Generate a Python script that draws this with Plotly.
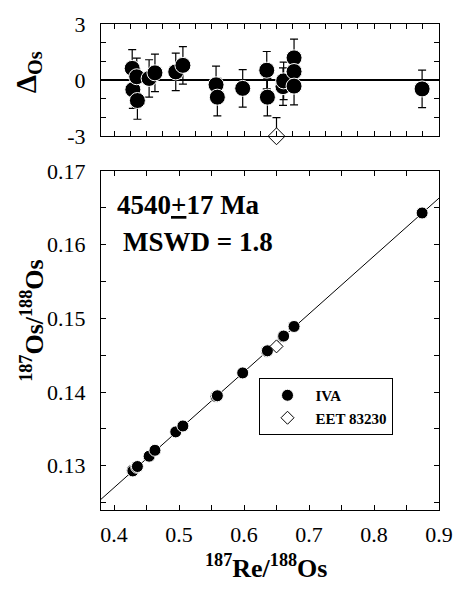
import numpy as np
import plotly.graph_objects as go

# ---------------- data ----------------
iva_re_os = [0.428, 0.429, 0.435, 0.436, 0.454, 0.463, 0.495, 0.506, 0.557, 0.559,
             0.598, 0.635, 0.636, 0.660, 0.661, 0.677, 0.677, 0.677, 0.874]
iva_os_os = [0.1294, 0.1293, 0.1298, 0.1299, 0.1313, 0.1321, 0.1346, 0.1354, 0.1394, 0.1395,
             0.1426, 0.1455, 0.1456, 0.1475, 0.1476, 0.1489, 0.1489, 0.1489, 0.1643]
iva_delta = [0.63, -0.51, 0.18, -1.09, 0.09, 0.39, 0.44, 0.79, -0.25, -0.91,
             -0.44, 0.53, -0.91, -0.35, -0.04, 1.19, 0.46, -0.32, -0.47]
iva_err = [1.0] * 19

eet_re_os = [0.650]
eet_os_os = [0.1462]
eet_delta = [-3.0]
eet_err_up = [1.0]
eet_err_down = [0.0]

# isochron (4540 Ma)
iso_slope = 0.07857
iso_intercept = 0.0956

x_range = [0.38, 0.9]
y_range_top = [-3, 3]
y_range_bot = [0.124, 0.17]

top_y_ticks = [-3, -2, -1, 0, 1, 2, 3]
top_y_labels = ["-3", "", "", "0", "", "", "3"]
top_x_ticks = list(np.round(np.arange(0.4, 0.9001, 0.025), 3))
bot_x_ticks = [0.4, 0.45, 0.5, 0.55, 0.6, 0.65, 0.7, 0.75, 0.8, 0.85, 0.9]
bot_x_labels = ["0.4", "", "0.5", "", "0.6", "", "0.7", "", "0.8", "", "0.9"]
bot_y_ticks = [0.125, 0.13, 0.135, 0.14, 0.145, 0.15, 0.155, 0.16, 0.165, 0.17]
bot_y_labels = ["", "0.13", "", "0.14", "", "0.15", "", "0.16", "", "0.17"]

FONT = "Liberation Serif"

fig = go.Figure()

# ---------- top panel: deviations ----------
fig.add_trace(go.Scatter(
    x=iva_re_os, y=iva_delta, mode="markers", xaxis="x", yaxis="y",
    marker=dict(symbol="circle", size=16, color="black", line=dict(color="white", width=1)),
    error_y=dict(type="data", array=iva_err, color="black", thickness=1.2, width=4),
    showlegend=False, cliponaxis=False))
fig.add_trace(go.Scatter(
    x=eet_re_os, y=eet_delta, mode="markers", xaxis="x", yaxis="y",
    marker=dict(symbol="diamond", size=13, color="white", line=dict(color="black", width=1)),
    error_y=dict(type="data", symmetric=False, array=eet_err_up, arrayminus=eet_err_down,
                 color="black", thickness=1.2, width=4),
    showlegend=False, cliponaxis=False))

# ---------- bottom panel: isochron ----------
line_x = np.array(x_range)
line_y = iso_intercept + iso_slope * line_x
fig.add_trace(go.Scatter(
    x=line_x, y=line_y, mode="lines", xaxis="x2", yaxis="y2",
    line=dict(color="black", width=1), showlegend=False, hoverinfo="skip"))
fig.add_trace(go.Scatter(
    x=iva_re_os, y=iva_os_os, mode="markers", xaxis="x2", yaxis="y2", name="IVA",
    marker=dict(symbol="circle", size=12, color="black", line=dict(color="white", width=1))))
fig.add_trace(go.Scatter(
    x=eet_re_os, y=eet_os_os, mode="markers", xaxis="x2", yaxis="y2", name="EET 83230",
    marker=dict(symbol="diamond", size=10, color="white", line=dict(color="black", width=1))))

tick_font = dict(family=FONT, size=22, color="black", weight="normal", style="normal")
axis_common = dict(showline=True, linecolor="black", linewidth=1.2, mirror="allticks",
                   ticks="inside", ticklen=5, tickwidth=1, tickcolor="black",
                   showgrid=False, tickfont=tick_font)

fig.update_layout(
    width=465, height=590,
    margin=dict(l=101, r=14, t=13, b=80),
    paper_bgcolor="white", plot_bgcolor="white",
    font=dict(family=FONT, color="black", weight="normal"),
    xaxis=dict(domain=[0, 1], anchor="y", range=x_range, tickvals=top_x_ticks,
               showticklabels=False, zeroline=False, **axis_common),
    yaxis=dict(domain=[0.769, 1], anchor="x", range=y_range_top, tickvals=top_y_ticks,
               ticktext=top_y_labels, ticklabelstandoff=10,
               zeroline=True, zerolinecolor="black", zerolinewidth=1.5, **axis_common),
    xaxis2=dict(domain=[0, 1], anchor="y2", range=x_range, tickvals=bot_x_ticks,
                ticktext=bot_x_labels, ticklabelstandoff=4, zeroline=False, **axis_common),
    yaxis2=dict(domain=[0, 0.6976], anchor="x2", range=y_range_bot, tickvals=bot_y_ticks,
                ticktext=bot_y_labels, ticklabelstandoff=10, zeroline=False, **axis_common),
    legend=dict(x=0.466, y=0.2716, xanchor="left", yanchor="top",
                bordercolor="black", borderwidth=1, bgcolor="white", itemwidth=46,
                tracegroupgap=0,
                font=dict(family=FONT, size=15, color="black", weight="bold")),
    showlegend=True,
)

ann_font = dict(family=FONT, size=27, color="black", weight="bold")
fig.add_annotation(text='4540<span style="text-decoration:underline">+</span>17 Ma',
                   xref="paper", yref="paper", x=0.04, y=0.628, xanchor="left", yanchor="middle",
                   showarrow=False, font=ann_font)
fig.add_annotation(text="MSWD = 1.8",
                   xref="paper", yref="paper", x=0.0577, y=0.551, xanchor="left", yanchor="middle",
                   showarrow=False, font=ann_font)
fig.add_annotation(text="Δ<sub>Os</sub>",
                   xref="paper", yref="paper", x=-0.217, y=0.90, xanchor="center", yanchor="middle",
                   textangle=-90, showarrow=False,
                   font=dict(family=FONT, size=29, color="black", weight="bold"))
fig.add_annotation(text="<sup>187</sup>Os/<sup>188</sup>Os",
                   xref="paper", yref="paper", x=-0.203, y=0.39, xanchor="center", yanchor="middle",
                   textangle=-90, showarrow=False,
                   font=dict(family=FONT, size=26, color="black", weight="bold"))
fig.add_annotation(text="<sup>187</sup>Re/<sup>188</sup>Os",
                   xref="paper", yref="paper", x=0.489, y=-0.117, xanchor="center", yanchor="middle",
                   showarrow=False, font=dict(family=FONT, size=26, color="black", weight="bold"))

fig.write_html("out.html")
